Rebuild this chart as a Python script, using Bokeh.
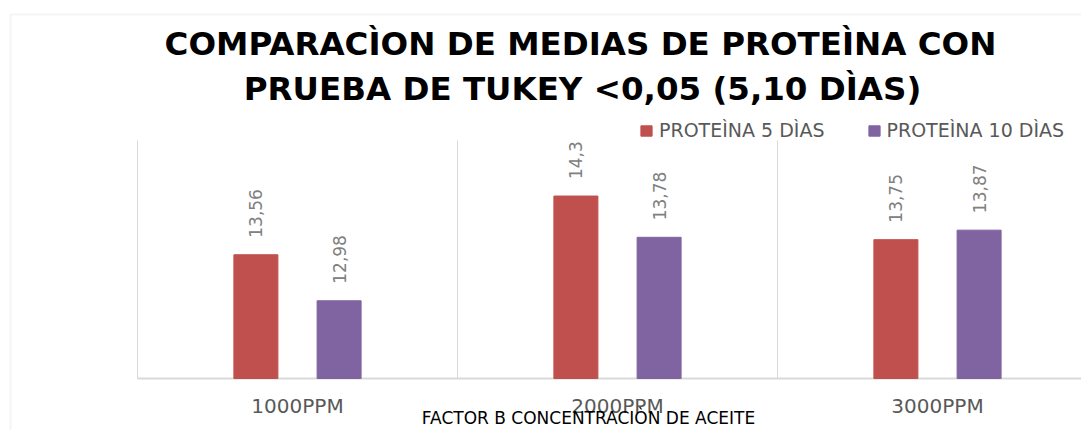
from bokeh.plotting import figure
from bokeh.models import (Range1d, Label, Legend, LegendItem,
                          BoxAnnotation, ColumnDataSource)
from bokeh.core.properties import value
from bokeh.embed import file_html
from bokeh.resources import INLINE

# ---- data ----
categories = ["1000PPM", "2000PPM", "3000PPM"]
series_names = ["PROTEÌNA 5 DÌAS", "PROTEÌNA 10 DÌAS"]
protein_5 = [13.56, 14.3, 13.75]
protein_10 = [12.98, 13.78, 13.87]
title_lines = ["COMPARACÌON DE MEDIAS DE PROTEÌNA CON",
               "PRUEBA DE TUKEY <0,05 (5,10 DÌAS)"]
x_title = "FACTOR B CONCENTRACIÒN DE ACEITE"
y_min, y_max = 12, 15

# ---- styling / layout (pixels) ----
RED = "#C0504D"
PURPLE = "#8064A2"
GRID = "#D9D9D9"
FONT = "DejaVu Sans"
W, H = 1081, 430
PLOT_L, PLOT_T, PLOT_B = 137, 140, 378   # plot-area edges in pixels
CAT_W = 320                               # pixels per category

def fmt(v):
    return f"{v:g}".replace(".", ",")

n = len(categories)
centers = [i + 0.5 for i in range(n)]
bounds = list(range(n + 1))
offset = 0.13
bar_w = 0.1375

ppu = (PLOT_B - PLOT_T) / (y_max - y_min)
x_range = Range1d(-PLOT_L / CAT_W, (W - PLOT_L) / CAT_W)
y_range = Range1d(y_min - (H - PLOT_B) / ppu, y_min + PLOT_B / ppu)

src5 = ColumnDataSource(dict(x=[c - offset for c in centers], top=protein_5,
                             lab=[fmt(v) for v in protein_5]))
src10 = ColumnDataSource(dict(x=[c + offset for c in centers], top=protein_10,
                              lab=[fmt(v) for v in protein_10]))

p = figure(width=W, height=H, x_range=x_range, y_range=y_range,
           output_backend="svg", toolbar_location=None, title=None,
           x_axis_location=None, y_axis_location=None,
           min_border=0)
p.outline_line_color = None
p.background_fill_color = "white"
p.border_fill_color = "white"
p.xgrid.visible = False
p.ygrid.visible = False

# vertical category separators and baseline
p.segment(x0=bounds, y0=[y_min] * len(bounds), x1=bounds, y1=[y_max] * len(bounds),
          line_color=GRID, line_width=1)
p.segment(x0=[bounds[0]], y0=[y_min], x1=[bounds[-1]], y1=[y_min],
          line_color=GRID, line_width=2)

r5 = p.vbar(x="x", top="top", bottom=y_min, width=bar_w, source=src5,
            fill_color=RED, line_color=RED)
r10 = p.vbar(x="x", top="top", bottom=y_min, width=bar_w, source=src10,
             fill_color=PURPLE, line_color=PURPLE)

for src in (src5, src10):
    p.text(x="x", y="top", text="lab", source=src, angle=1.5707963,
           text_align="left", text_baseline="middle", y_offset=-17,
           text_font=value(FONT), text_font_size="17px", text_color="#808080")

# category labels
p.text(x=centers, y=[y_min] * n, text=categories, y_offset=27,
       text_align="center", text_baseline="middle",
       text_font=value(FONT), text_font_size="20px", text_color="#595959")

# legend
legend = Legend(items=[LegendItem(label=series_names[0], renderers=[r5]),
                       LegendItem(label=series_names[1], renderers=[r10])],
                location=(639, 289), orientation="horizontal",
                padding=0, margin=0, spacing=42, label_standoff=6,
                glyph_width=14, glyph_height=13,
                label_text_font=FONT, label_text_font_size="19px",
                label_text_color="#595959",
                border_line_color=None, background_fill_alpha=0)
p.add_layout(legend)

# titles
p.add_layout(Label(x=580, y=43, x_units="canvas", y_units="canvas",
                   text=title_lines[0], text_align="center", text_baseline="middle",
                   text_font=FONT, text_font_style="bold", text_font_size="32.5px",
                   text_color="black"))
p.add_layout(Label(x=582, y=88, x_units="canvas", y_units="canvas",
                   text=title_lines[1], text_align="center", text_baseline="middle",
                   text_font=FONT, text_font_style="bold", text_font_size="32.5px",
                   text_color="black"))
p.add_layout(Label(x=588, y=417, x_units="canvas", y_units="canvas",
                   text=x_title, text_align="center", text_baseline="middle",
                   text_font=FONT, text_font_size="17px", text_color="black"))

# outer chart border
p.add_layout(BoxAnnotation(left=10, right=3000, top=14, bottom=3000,
                           left_units="canvas", right_units="canvas",
                           top_units="canvas", bottom_units="canvas",
                           fill_alpha=0, line_color=GRID, line_width=2))

open("out.html", "w").write(file_html(p, INLINE))
